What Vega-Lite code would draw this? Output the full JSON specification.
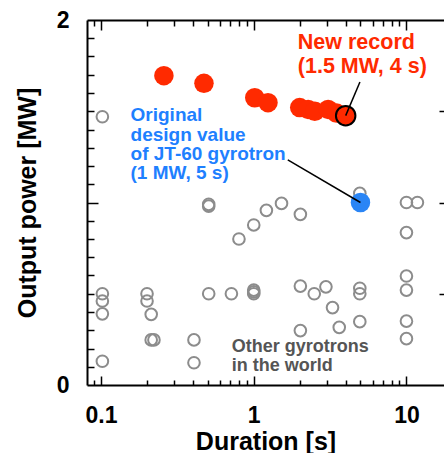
{
  "$schema": "https://vega.github.io/schema/vega-lite/v6.json",
  "width": 357,
  "height": 365,
  "autosize": "none",
  "padding": {"left": 87, "top": 20, "right": 0, "bottom": 68},
  "background": "white",
  "config": {
    "view": {"stroke": null},
    "axis": {
      "grid": false,
      "domainColor": "black",
      "domainWidth": 2,
      "tickColor": "black",
      "tickWidth": 1.5,
      "labelFont": "Liberation Sans",
      "labelFontWeight": "bold",
      "labelFontSize": 23,
      "labelColor": "black",
      "labelFlush": false,
      "labelOverlap": false,
      "labelBound": false,
      "titleFont": "Liberation Sans",
      "titleFontWeight": "bold",
      "titleFontSize": 25,
      "titleColor": "black"
    }
  },
  "datasets": {
    "gray": [
      {"d": 0.102, "p": 1.47}, {"d": 0.102, "p": 0.5}, {"d": 0.102, "p": 0.46}, {"d": 0.102, "p": 0.39}, {"d": 0.102, "p": 0.13},
      {"d": 0.2, "p": 0.5}, {"d": 0.2, "p": 0.46}, {"d": 0.213, "p": 0.387}, {"d": 0.213, "p": 0.247}, {"d": 0.222, "p": 0.247},
      {"d": 0.406, "p": 0.247}, {"d": 0.406, "p": 0.122},
      {"d": 0.507, "p": 0.98}, {"d": 0.507, "p": 0.99}, {"d": 0.507, "p": 0.5},
      {"d": 0.714, "p": 0.5}, {"d": 0.8, "p": 0.8}, {"d": 1.0, "p": 0.877}, {"d": 1.0, "p": 0.5}, {"d": 1.0, "p": 0.52}, {"d": 1.0, "p": 0.51},
      {"d": 1.21, "p": 0.957}, {"d": 1.52, "p": 0.995}, {"d": 2.02, "p": 0.935}, {"d": 2.02, "p": 0.542}, {"d": 2.02, "p": 0.298},
      {"d": 2.49, "p": 0.5}, {"d": 2.97, "p": 0.538}, {"d": 3.28, "p": 0.424}, {"d": 3.63, "p": 0.316},
      {"d": 4.95, "p": 1.05}, {"d": 4.95, "p": 0.53}, {"d": 4.95, "p": 0.5}, {"d": 4.95, "p": 0.347},
      {"d": 10.0, "p": 1.0}, {"d": 11.8, "p": 1.0}, {"d": 10.0, "p": 0.835}, {"d": 10.0, "p": 0.597}, {"d": 10.0, "p": 0.52}, {"d": 10.0, "p": 0.35}, {"d": 10.0, "p": 0.254}
    ],
    "red": [
      {"d": 0.258, "p": 1.695}, {"d": 0.472, "p": 1.653}, {"d": 1.015, "p": 1.574}, {"d": 1.24, "p": 1.547},
      {"d": 2.0, "p": 1.52}, {"d": 2.27, "p": 1.51}, {"d": 2.51, "p": 1.5}, {"d": 3.07, "p": 1.51}, {"d": 3.48, "p": 1.49}
    ],
    "record": [{"d": 4.0, "p": 1.476}],
    "blue": [{"d": 5.0, "p": 1.0}],
    "leaders": [
      {"d": 4.96, "p": 1.66, "d2": 4.0, "p2": 1.476},
      {"d": 1.671, "p": 1.233, "d2": 5.0, "p2": 1.0}
    ],
    "notes": [
      {"t": "New record", "d": 1.943, "p": 1.874, "g": "red"},
      {"t": "(1.5 MW, 4 s)", "d": 1.943, "p": 1.742, "g": "red"},
      {"t": "Original", "d": 0.156, "p": 1.479, "g": "blue"},
      {"t": "design value", "d": 0.156, "p": 1.372, "g": "blue"},
      {"t": "of JT-60 gyrotron", "d": 0.156, "p": 1.268, "g": "blue"},
      {"t": "(1 MW, 5 s)", "d": 0.156, "p": 1.162, "g": "blue"}
    ],
    "notes2": [
      {"t": "Other gyrotrons", "d": 0.717, "p": 0.21},
      {"t": "in the world", "d": 0.717, "p": 0.106}
    ]
  },
  "resolve": {"axis": {"x": "independent", "y": "independent"}},
  "layer": [
    {
      "data": {"name": "gray"},
      "mark": {"type": "point", "shape": "circle", "filled": false, "size": 135, "strokeWidth": 2, "color": "#8c8c8c", "opacity": 1},
      "encoding": {
        "x": {"field": "d", "type": "quantitative",
          "scale": {"type": "log", "domain": [0.0809, 17.62], "nice": false},
          "axis": {"orient": "bottom", "title": "Duration [s]", "values": [0.1, 1, 10], "ticks": false, "domain": true, "labelPadding": 19, "titlePadding": 2, "format": "~g"}},
        "y": {"field": "p", "type": "quantitative",
          "scale": {"domain": [0, 2], "nice": false},
          "axis": {"orient": "left", "title": "Output power [MW]", "values": [0, 1, 2], "ticks": false, "domain": true, "labelPadding": 18, "titlePadding": 16, "format": "d"}}
      }
    },
    {
      "data": {"name": "red"},
      "mark": {"type": "point", "shape": "circle", "filled": true, "size": 380, "color": "#ff2a00", "opacity": 1, "strokeWidth": 0},
      "encoding": {
        "x": {"field": "d", "type": "quantitative",
          "scale": {"type": "log", "domain": [0.0809, 17.62], "nice": false},
          "axis": {"orient": "bottom", "title": null, "labels": false, "domain": false, "tickSize": -5,
            "values": [0.09, 0.2, 0.3, 0.4, 0.5, 0.6, 0.7, 0.8, 0.9, 2, 3, 4, 5, 6, 7, 8, 9]}},
        "y": {"field": "p", "type": "quantitative",
          "scale": {"domain": [0, 2], "nice": false},
          "axis": {"orient": "left", "title": null, "labels": false, "domain": false, "tickSize": -7,
            "values": [0.1, 0.2, 0.3, 0.4, 0.5, 0.6, 0.7, 0.8, 0.9, 1.1, 1.2, 1.3, 1.4, 1.5, 1.6, 1.7, 1.8, 1.9]}}
      }
    },
    {
      "data": {"name": "blue"},
      "mark": {"type": "point", "shape": "circle", "filled": true, "size": 380, "color": "#2a85f5", "opacity": 1, "strokeWidth": 0},
      "encoding": {
        "x": {"field": "d", "type": "quantitative",
          "scale": {"type": "log", "domain": [0.0809, 17.62], "nice": false},
          "axis": {"orient": "bottom", "title": null, "labels": false, "domain": false, "tickSize": -9, "values": [0.1, 1, 10]}},
        "y": {"field": "p", "type": "quantitative",
          "scale": {"domain": [0, 2], "nice": false},
          "axis": {"orient": "left", "title": null, "labels": false, "domain": false, "tickSize": -11, "values": [1]}}
      }
    },
    {
      "data": {"name": "record"},
      "mark": {"type": "point", "shape": "circle", "filled": true, "size": 380, "fill": "#ff2a00", "stroke": "black", "strokeWidth": 2, "opacity": 1},
      "encoding": {
        "x": {"field": "d", "type": "quantitative",
          "scale": {"type": "log", "domain": [0.0809, 17.62], "nice": false},
          "axis": {"orient": "top", "title": null, "labels": false, "domain": true, "tickSize": -6,
            "values": [0.09, 0.2, 0.3, 0.4, 0.5, 0.6, 0.7, 0.8, 0.9, 2, 3, 4, 5, 6, 7, 8, 9]}},
        "y": {"field": "p", "type": "quantitative",
          "scale": {"domain": [0, 2], "nice": false},
          "axis": {"orient": "right", "title": null, "labels": false, "domain": false, "tickSize": -5, "values": [0.5, 1, 1.5]}}
      }
    },
    {
      "data": {"name": "leaders"},
      "mark": {"type": "rule", "color": "black", "strokeWidth": 1.5},
      "encoding": {
        "x": {"field": "d", "type": "quantitative",
          "scale": {"type": "log", "domain": [0.0809, 17.62], "nice": false},
          "axis": {"orient": "top", "title": null, "labels": false, "domain": false, "tickSize": -10, "values": [0.1, 1, 10]}},
        "y": {"field": "p", "type": "quantitative", "scale": {"domain": [0, 2], "nice": false}, "axis": null},
        "x2": {"field": "d2"},
        "y2": {"field": "p2"}
      }
    },
    {
      "data": {"name": "notes"},
      "mark": {"type": "text", "align": "left", "baseline": "middle", "font": "Liberation Sans", "fontWeight": "bold", "fontSize": 19},
      "encoding": {
        "x": {"field": "d", "type": "quantitative", "scale": {"type": "log", "domain": [0.0809, 17.62], "nice": false}, "axis": null},
        "y": {"field": "p", "type": "quantitative", "scale": {"domain": [0, 2], "nice": false}, "axis": null},
        "text": {"field": "t", "type": "nominal"},
        "color": {"field": "g", "type": "nominal", "scale": {"domain": ["red", "blue"], "range": ["#ff2a00", "#1e80ff"]}, "legend": null},
        "size": {"field": "g", "type": "nominal", "scale": {"domain": ["red", "blue"], "range": [21.5, 19]}, "legend": null}
      }
    },
    {
      "data": {"name": "notes2"},
      "mark": {"type": "text", "align": "left", "baseline": "middle", "font": "Liberation Sans", "fontWeight": "bold", "fontSize": 18, "color": "#555555"},
      "encoding": {
        "x": {"field": "d", "type": "quantitative", "scale": {"type": "log", "domain": [0.0809, 17.62], "nice": false}, "axis": null},
        "y": {"field": "p", "type": "quantitative", "scale": {"domain": [0, 2], "nice": false}, "axis": null},
        "text": {"field": "t", "type": "nominal"}
      }
    }
  ]
}
